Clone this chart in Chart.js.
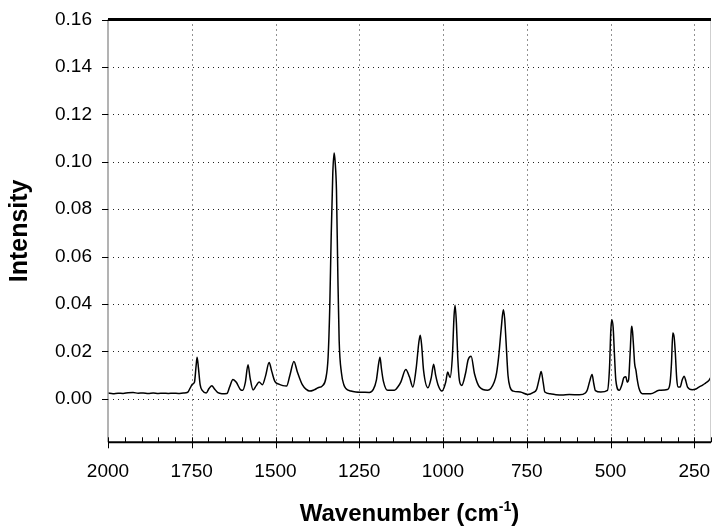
<!DOCTYPE html>
<html>
<head>
<meta charset="utf-8">
<script src="https://cdn.jsdelivr.net/npm/chart.js@4.4.1/dist/chart.umd.min.js"></script>
<style>
  html, body { margin: 0; padding: 0; background: #fff; }
  #wrap { width: 712px; height: 526px; }
</style>
</head>
<body>
<div id="wrap"><canvas id="c" width="712" height="526"></canvas></div>
<script>
// ---- data ----
const wavenumbers = [
  2000,1985,1970,1955,1940,1925,1910,1895,1880,1865,1850,1835,1820,1805,1790,1775,
  1762,1755,1748,1742,1737,1734,1730,1725,1718,1707,1698,1690,1682,1672,1660,1645,
  1637,1627,1617,1605,1598,1590,1582,1576,1567,1558,1549,1539,1530,1519,1511,1502,
  1490,1478,1467,1457,1445,1435,1420,1408,1398,1385,1373,1360,1350,1343,1338,1334,
  1329,1325,1322,1318,1314,1310,1303,1296,1290,1275,1260,1240,1220,1208,1199,1192,
  1188,1184,1178,1165,1145,1135,1126,1111,1100,1090,1080,1072,1068,1064,1058,1045,
  1035,1028,1022,1015,1003,992,986,979,972,967,964,960,956,951,944,933,
  925,916,906,891,867,847,840,834,826,820,816,812,806,800,790,769,
  747,730,721,712,707,701,696,680,663,645,623,593,575,569,562,555,
  550,545,529,509,503,499,496,492,488,484,474,466,460,454,450,446,
  442,438,436,432,428,424,420,415,405,380,355,330,322,318,314,310,
  307,302,298,292,286,280,275,270,256,245,236,225,216,208,201
];
const intensity = [
  0.0025,0.0022,0.0024,0.0023,0.0026,0.0027,0.0024,0.0025,0.0023,0.0025,0.0023,0.0024,0.0023,0.0024,0.0023,0.0025,
  0.0028,0.0045,0.0062,0.0070,0.0140,0.0176,0.0130,0.0060,0.0035,0.0025,0.0045,0.0056,0.0042,0.0026,0.0022,0.0023,
  0.0050,0.0082,0.0070,0.0040,0.0036,0.0070,0.0144,0.0090,0.0038,0.0055,0.0071,0.0060,0.0095,0.0153,0.0115,0.0074,
  0.0062,0.0056,0.0054,0.0100,0.0158,0.0115,0.0060,0.0040,0.0033,0.0038,0.0047,0.0055,0.0085,0.0176,0.0388,0.0670,
  0.0950,0.1037,0.1000,0.0880,0.0530,0.0247,0.0108,0.0060,0.0044,0.0033,0.0029,0.0028,0.0027,0.0040,0.0078,0.0150,
  0.0176,0.0130,0.0075,0.0036,0.0036,0.0050,0.0071,0.0124,0.0092,0.0050,0.0130,0.0240,0.0268,0.0230,0.0120,0.0047,
  0.0090,0.0146,0.0100,0.0060,0.0033,0.0070,0.0113,0.0090,0.0180,0.0350,0.0395,0.0320,0.0176,0.0078,0.0057,0.0106,
  0.0165,0.0180,0.0106,0.0050,0.0036,0.0071,0.0110,0.0176,0.0300,0.0376,0.0340,0.0247,0.0100,0.0050,0.0033,0.0029,
  0.0019,0.0028,0.0039,0.0090,0.0116,0.0070,0.0029,0.0022,0.0018,0.0016,0.0019,0.0017,0.0025,0.0039,0.0075,0.0103,
  0.0065,0.0035,0.0029,0.0036,0.0130,0.0290,0.0334,0.0300,0.0180,0.0078,0.0036,0.0060,0.0090,0.0093,0.0070,0.0080,
  0.0176,0.0290,0.0306,0.0240,0.0150,0.0120,0.0080,0.0045,0.0022,0.0022,0.0036,0.0040,0.0070,0.0149,0.0278,0.0260,
  0.0205,0.0080,0.0050,0.0050,0.0080,0.0096,0.0075,0.0050,0.0039,0.0042,0.0050,0.0058,0.0067,0.0075,0.0090
];
const xTickValues = [2000, 1750, 1500, 1250, 1000, 750, 500, 250];
const yTickValues = [0.00, 0.02, 0.04, 0.06, 0.08, 0.10, 0.12, 0.14, 0.16];
const xTitle = 'Wavenumber (cm';
const xTitleSup = '-1';
const yTitle = 'Intensity';

const FONT = "'Liberation Sans', Arial, Helvetica, sans-serif";

const points = wavenumbers.map((w, i) => ({ x: w, y: intensity[i] }));

const decor = {
  id: 'decor',
  beforeDatasetsDraw(chart) {
    const { ctx, chartArea: a, scales: { x, y } } = chart;
    ctx.save();
    ctx.strokeStyle = '#222';
    ctx.lineWidth = 1;
    ctx.setLineDash([1, 4]);
    yTickValues.forEach(v => {
      if (v >= 0.16) return;
      const py = Math.round(y.getPixelForValue(v)) + 0.5;
      ctx.beginPath(); ctx.moveTo(a.left, py); ctx.lineTo(a.right, py); ctx.stroke();
    });
    xTickValues.forEach(v => {
      if (v >= 2000) return;
      const px = Math.round(x.getPixelForValue(v)) + 0.5;
      ctx.beginPath(); ctx.moveTo(px, a.top); ctx.lineTo(px, a.bottom); ctx.stroke();
    });
    ctx.restore();
  },
  afterDraw(chart) {
    const { ctx, chartArea: a, scales: { x, y } } = chart;
    ctx.save();
    ctx.setLineDash([]);
    ctx.strokeStyle = '#9a9a9a';
    ctx.lineWidth = 1.5;
    ctx.beginPath(); ctx.moveTo(a.left, a.top); ctx.lineTo(a.left, a.bottom); ctx.stroke();
    ctx.strokeStyle = '#cfcfcf';
    ctx.lineWidth = 1;
    ctx.beginPath(); ctx.moveTo(a.right - 0.5, a.top); ctx.lineTo(a.right - 0.5, a.bottom); ctx.stroke();
    ctx.strokeStyle = '#000';
    ctx.lineWidth = 3;
    ctx.beginPath(); ctx.moveTo(a.left, a.top); ctx.lineTo(a.right, a.top); ctx.stroke();
    ctx.lineWidth = 2;
    ctx.beginPath(); ctx.moveTo(a.left, a.bottom); ctx.lineTo(a.right, a.bottom); ctx.stroke();
    ctx.lineWidth = 1;
    for (let v = 2000; v >= 200; v -= 50) {
      const px = Math.round(x.getPixelForValue(v)) + 0.5;
      ctx.beginPath(); ctx.moveTo(px, a.bottom); ctx.lineTo(px, a.bottom - 5); ctx.stroke();
    }
    xTickValues.forEach(v => {
      const px = Math.round(x.getPixelForValue(v)) + 0.5;
      ctx.beginPath(); ctx.moveTo(px, a.bottom); ctx.lineTo(px, a.bottom + 6); ctx.stroke();
    });
    yTickValues.forEach(v => {
      const py = Math.round(y.getPixelForValue(v)) + 0.5;
      ctx.beginPath(); ctx.moveTo(a.left - 6, py); ctx.lineTo(a.left, py); ctx.stroke();
    });
    ctx.fillStyle = '#000';
    ctx.font = 'bold 25px ' + FONT;
    ctx.textAlign = 'center';
    ctx.textBaseline = 'middle';
    ctx.save();
    ctx.translate(20, (a.top + a.bottom) / 2);
    ctx.rotate(-Math.PI / 2);
    ctx.fillText(yTitle, 0, 0);
    ctx.restore();
    ctx.textAlign = 'left';
    ctx.textBaseline = 'alphabetic';
    const mainFont = 'bold 24px ' + FONT, supFont = 'bold 14px ' + FONT;
    ctx.font = mainFont; const w1 = ctx.measureText(xTitle).width; const w3 = ctx.measureText(')').width;
    ctx.font = supFont; const w2 = ctx.measureText(xTitleSup).width;
    const total = w1 + w2 + w3;
    let sx = (a.left + a.right) / 2 - total / 2;
    const base = 521;
    ctx.font = mainFont; ctx.fillText(xTitle, sx, base); sx += w1;
    ctx.font = supFont; ctx.fillText(xTitleSup, sx, base - 10); sx += w2;
    ctx.font = mainFont; ctx.fillText(')', sx, base);
    ctx.restore();
  }
};

new Chart(document.getElementById('c'), {
  type: 'line',
  data: {
    datasets: [{
      data: points,
      borderColor: '#000',
      borderWidth: 1.5,
      pointRadius: 0,
      fill: false,
      cubicInterpolationMode: 'monotone'
    }]
  },
  options: {
    responsive: false,
    animation: false,
    events: [],
    layout: { padding: { top: 19.5, right: 1, left: 0, bottom: 0 } },
    plugins: { legend: { display: false }, tooltip: { enabled: false } },
    scales: {
      x: {
        type: 'linear',
        reverse: true,
        min: 200,
        max: 2000,
        afterBuildTicks: s => { s.ticks = xTickValues.map(v => ({ value: v })); },
        afterFit: s => { s.height = 83.7; s.paddingLeft = 0; s.paddingRight = 0; },
        grid: { display: false, drawTicks: false },
        border: { display: false },
        ticks: {
          color: '#000',
          font: { family: FONT, size: 19 },
          padding: 18,
          maxRotation: 0,
          callback: v => String(v)
        }
      },
      y: {
        type: 'linear',
        min: -0.0183,
        max: 0.16,
        afterBuildTicks: s => { s.ticks = yTickValues.map(v => ({ value: v })); },
        afterFit: s => { s.width = 108; s.paddingTop = 0; s.paddingBottom = 0; },
        grid: { display: false, drawTicks: false },
        border: { display: false },
        ticks: {
          color: '#000',
          font: { family: FONT, size: 19 },
          padding: 16,
          callback: v => v.toFixed(2)
        }
      }
    }
  },
  plugins: [decor]
});
</script>
</body>
</html>
